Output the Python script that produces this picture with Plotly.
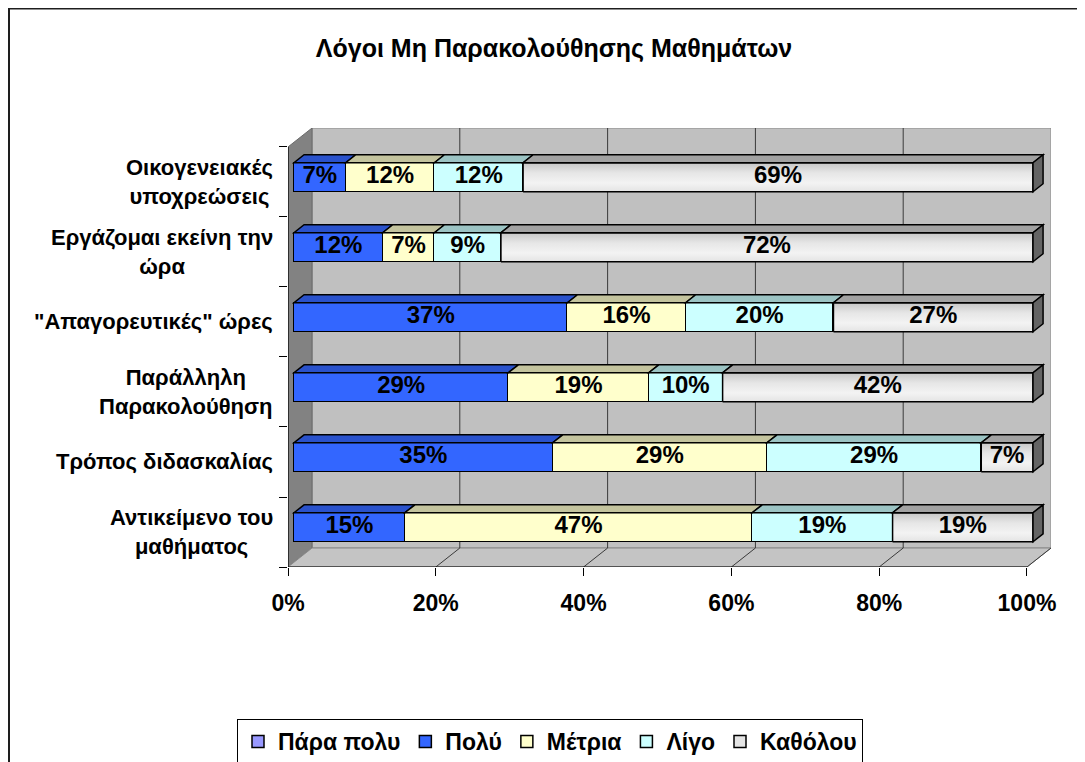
import plotly.graph_objects as go

# ---------------- data ----------------
CATEGORIES = [
    "Οικογενειακές<br>υποχρεώσεις",
    "Εργάζομαι εκείνη την<br>ώρα",
    "\"Απαγορευτικές\" ώρες",
    "Παράλληλη<br>Παρακολούθηση",
    "Τρόπος διδασκαλίας",
    "Αντικείμενο του<br>μαθήματος",
]
SERIES_NAMES = ["Πάρα πολυ", "Πολύ", "Μέτρια", "Λίγο", "Καθόλου"]
PARA_POLY = [0, 0, 0, 0, 0, 0]
POLY = [7, 12, 37, 29, 35, 15]
METRIA = [12, 7, 16, 19, 29, 47]
LIGO = [12, 9, 20, 10, 29, 19]
KATHOLOU = [69, 72, 27, 42, 7, 19]
X_TICKS = [0, 20, 40, 60, 80, 100]
TITLE = "Λόγοι Μη Παρακολούθησης Μαθημάτων"

SERIES_VALUES = [PARA_POLY, POLY, METRIA, LIGO, KATHOLOU]
FRONT_COLORS = ["#9999ff", "#3366ff", "#ffffcc", "#ccffff", "#e4e4e4"]
TOP_COLORS = ["#7777cc", "#2a52cc", "#c4c49e", "#9cc4c4", "#a2a2a2"]
SIDE_COLOR = "#646464"
GRAD_SCALE = [[0, "#e4e4e4"], [0.3, "#f3f3f3"], [0.65, "#e6e6e6"], [1, "#c6c6c6"]]

FONT = "Arial, 'Liberation Sans', sans-serif"

n = len(CATEGORIES)
Y_POS = [n - 1 - i for i in range(n)]

# figure geometry (page has an 8px body margin)
W, H = 1077, 754
ML, MT, MR, MB = 280, 120, 34, 195
PW, PH = W - ML - MR, H - MT - MB

# 3-D geometry (in data units)
DX, DY = 3.25, 0.271
BAR_FRONT, BAR_BACK = 0.25, 0.67
BAR_W = 0.414
bdx = (BAR_BACK - BAR_FRONT) * DX
bdy = (BAR_BACK - BAR_FRONT) * DY

x_rng = [-BAR_FRONT * DX, 100 + (1 - BAR_FRONT) * DX]
y_rng = [-0.5 - BAR_FRONT * DY, n - 0.5 + (1 - BAR_FRONT) * DY]

fig = go.Figure()

for name, vals, col in zip(SERIES_NAMES, SERIES_VALUES, FRONT_COLORS):
    fig.add_trace(go.Bar(
        x=vals, y=Y_POS, orientation="h", name=name, width=BAR_W,
        marker=dict(color=col, line=dict(color="black", width=1.5)),
        hoverinfo="skip",
    ))

# gradient overlay on the "Καθόλου" front faces + label positions
label_x, label_y, label_t = [], [], []
for r, yp in enumerate(Y_POS):
    cum = 0
    for vals in SERIES_VALUES:
        v = vals[r]
        if v > 0:
            label_x.append(cum + v / 2)
            label_y.append(yp)
            label_t.append(f"{v}%")
        cum += v
    last = KATHOLOU[r]
    x0, x1 = cum - last, cum
    y0, y1 = yp - BAR_W / 2, yp + BAR_W / 2
    fig.add_trace(go.Scatter(
        x=[x0, x1, x1, x0, x0], y=[y0, y0, y1, y1, y0], mode="lines",
        fill="toself", fillgradient=dict(type="vertical", colorscale=GRAD_SCALE),
        line=dict(color="black", width=1.5), showlegend=False, hoverinfo="skip",
    ))

fig.add_trace(go.Scatter(
    x=label_x, y=label_y, text=label_t, mode="text", textposition="middle center",
    textfont=dict(family=FONT, size=24, color="black", weight="bold"),
    showlegend=False, hoverinfo="skip",
))

# empty trace to activate the front-plane axes
fig.add_trace(go.Scatter(x=[], y=[], xaxis="x2", yaxis="y2", showlegend=False,
                         hoverinfo="skip"))

shapes = []
xb0 = x_rng[0] + DX
xb1 = x_rng[1]
yb0 = y_rng[0] + DY
yb1 = y_rng[1]
xf0, yf0 = x_rng[0], y_rng[0]
xf1 = 100 - BAR_FRONT * DX
yft = y_rng[1] - DY


def poly(pts, fill, line_color=None, lw=0, layer="below"):
    d = "M " + " L ".join(f"{x},{y}" for x, y in pts) + " Z"
    return dict(type="path", path=d, xref="x", yref="y", fillcolor=fill,
                line=dict(color=line_color or fill, width=lw), layer=layer)


# back wall, left wall, floor
shapes.append(poly([(xb0, yb0), (xb1, yb0), (xb1, yb1), (xb0, yb1)], "#c0c0c0", "#8a8a8a", 1))
shapes.append(poly([(xf0, yf0), (xf0, yft), (xb0, yb1), (xb0, yb0)], "#828282", "#6a6a6a", 1))
shapes.append(poly([(xf0, yf0), (xf1, yf0), (xb1, yb0), (xb0, yb0)], "#c4c4c4", "#8a8a8a", 1))

# gridlines on back wall + floor
for v in X_TICKS[1:-1]:
    xb = v + (1 - BAR_FRONT) * DX
    xf = v - BAR_FRONT * DX
    shapes.append(dict(type="line", xref="x", yref="y", x0=xb, x1=xb, y0=yb0, y1=yb1,
                       line=dict(color="#3a3a3a", width=1), layer="below"))
    shapes.append(dict(type="line", xref="x", yref="y", x0=xb, x1=xf, y0=yb0, y1=yf0,
                       line=dict(color="#3a3a3a", width=1), layer="below"))
shapes.append(dict(type="line", xref="x", yref="y", x0=xb1, x1=xf1, y0=yb0, y1=yf0,
                   line=dict(color="#3a3a3a", width=1), layer="below"))
# axis lines on front plane
shapes.append(dict(type="line", xref="x", yref="y", x0=xf0, x1=xf1, y0=yf0, y1=yf0,
                   line=dict(color="black", width=1.2), layer="above"))
shapes.append(dict(type="line", xref="x", yref="y", x0=xf0, x1=xf0, y0=yf0, y1=yft,
                   line=dict(color="black", width=1.2), layer="above"))

# 3-D bar tops and end faces
for r, yp in enumerate(Y_POS):
    cum = 0
    yt = yp + BAR_W / 2
    ybm = yp - BAR_W / 2
    for s, vals in enumerate(SERIES_VALUES):
        v = vals[r]
        if v <= 0:
            continue
        x0, x1 = cum, cum + v
        shapes.append(poly([(x0, yt), (x1, yt), (x1 + bdx, yt + bdy), (x0 + bdx, yt + bdy)],
                           TOP_COLORS[s], "black", 1.5, layer="above"))
        cum = x1
    shapes.append(poly([(cum, ybm), (cum, yt), (cum + bdx, yt + bdy), (cum + bdx, ybm + bdy)],
                       SIDE_COLOR, "black", 1.5, layer="above"))

# outer chart frame (only its top and left edges are visible)
shapes.append(dict(type="rect", xref="paper", yref="paper",
                   x0=(1 - ML) / PW, x1=(W + 20 - ML) / PW,
                   y0=(PH + MT - 0.5) / PH, y1=-(MB + 20) / PH,
                   line=dict(color="#1e1e1e", width=2), fillcolor="rgba(0,0,0,0)",
                   layer="below"))

# category labels
annotations = []
for cat, yp in zip(CATEGORIES, Y_POS):
    annotations.append(dict(text=cat, xref="paper", yref="y2", x=0, y=yp,
                            xanchor="right", yanchor="middle", align="center",
                            xshift=-13, showarrow=False,
                            font=dict(family=FONT, size=22, color="black", weight="bold")))

fig.update_layout(
    width=W, height=H,
    margin=dict(l=ML, r=MR, t=MT, b=MB, pad=0, autoexpand=False),
    paper_bgcolor="white", plot_bgcolor="white",
    barmode="stack", bargap=0,
    title=dict(text=TITLE, x=546 / W, y=1 - 40 / H, xref="container", yref="container",
               xanchor="center", yanchor="middle",
               font=dict(family=FONT, size=25, color="black", weight="bold")),
    xaxis=dict(range=x_rng, showgrid=False, zeroline=False, showticklabels=False,
               ticks="", showline=False, fixedrange=True, automargin=False),
    yaxis=dict(range=y_rng, showgrid=False, zeroline=False, showticklabels=False,
               ticks="", showline=False, fixedrange=True, automargin=False),
    xaxis2=dict(overlaying="x", anchor="y2", side="bottom", automargin=False,
                range=[x_rng[0] + BAR_FRONT * DX, x_rng[1] + BAR_FRONT * DX],
                tickvals=X_TICKS, ticktext=[f"{v}%" for v in X_TICKS],
                ticks="outside", ticklen=8, tickcolor="black", tickwidth=1.2,
                showgrid=False, zeroline=False, showline=False, ticklabelstandoff=7,
                tickfont=dict(family=FONT, size=23, color="black", weight="bold")),
    yaxis2=dict(overlaying="y", anchor="x2", side="left", automargin=False,
                range=[y_rng[0] + BAR_FRONT * DY, y_rng[1] + BAR_FRONT * DY],
                tickvals=[p - 0.5 for p in range(n + 1)],
                ticks="outside", ticklen=8, tickcolor="black", tickwidth=1.2,
                showticklabels=False, showgrid=False, zeroline=False, showline=False),
    legend=dict(orientation="h", xref="container", yref="container",
                x=542 / W, xanchor="center", y=1 - 711 / H, yanchor="top",
                traceorder="normal", bgcolor="white", bordercolor="black", borderwidth=1,
                itemwidth=30, tracegroupgap=0,
                font=dict(family=FONT, size=23, color="black", weight="bold")),
    shapes=shapes, annotations=annotations, showlegend=True,
)

fig.write_html("out.html")
